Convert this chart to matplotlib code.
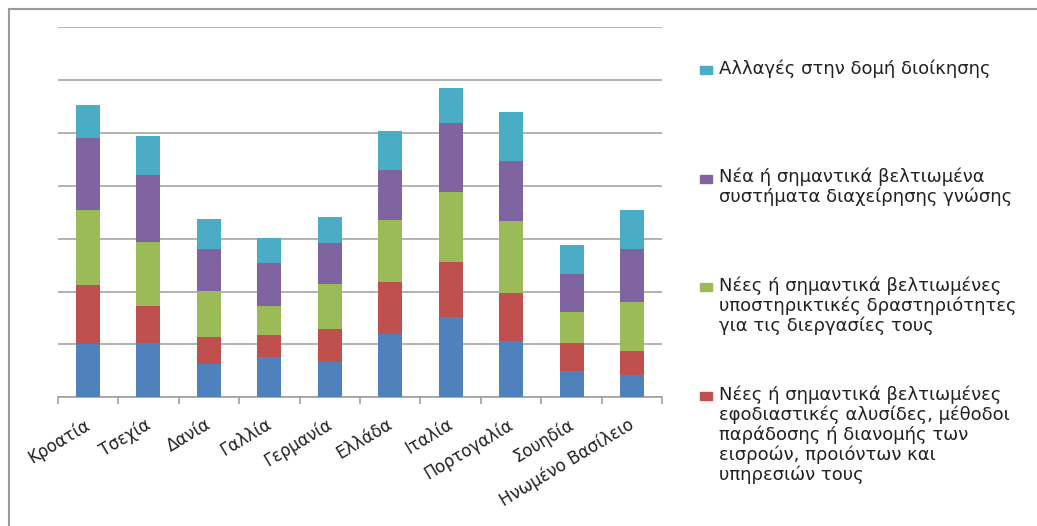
import matplotlib.pyplot as plt
from matplotlib.patches import Rectangle
from matplotlib.lines import Line2D
from matplotlib.transforms import ScaledTranslation

plt.rcParams['font.family'] = ['DejaVu Sans']

countries = ['Κροατία', 'Τσεχία', 'Δανία', 'Γαλλία', 'Γερμανία',
             'Ελλάδα', 'Ιταλία', 'Πορτογαλία', 'Σουηδία', 'Ηνωμένο Βασίλειο']

# stacked from bottom to top
blue_vals = [5.0, 5.1, 3.15, 3.8, 3.3, 6.0, 7.55, 5.3, 2.45, 2.1]
red_vals = [5.6, 3.55, 2.55, 2.1, 3.2, 4.9, 5.25, 4.6, 2.7, 2.3]
green_vals = [7.1, 6.0, 4.35, 2.7, 4.2, 5.9, 6.65, 6.8, 2.9, 4.6]
purple_vals = [6.8, 6.35, 4.0, 4.1, 3.9, 4.7, 6.5, 5.7, 3.6, 5.0]
cyan_vals = [3.15, 3.7, 2.8, 2.4, 2.45, 3.65, 3.3, 4.55, 2.8, 3.7]

series_labels = [
    '',
    'Νέες ή σημαντικά βελτιωμένες\nεφοδιαστικές αλυσίδες, μέθοδοι\n'
    'παράδοσης ή διανομής των\nεισροών, προιόντων και\nυπηρεσιών τους',
    'Νέες ή σημαντικά βελτιωμένες\nυποστηρικτικές δραστηριότητες\n'
    'για τις διεργασίες τους',
    'Νέα ή σημαντικά βελτιωμένα\nσυστήματα διαχείρησης γνώσης',
    'Αλλαγές στην δομή διοίκησης',
]
series = [blue_vals, red_vals, green_vals, purple_vals, cyan_vals]
colors = ['#4F81BD', '#C0504D', '#9BBB59', '#8064A2', '#4BACC6']
text_color = '#222222'

W, H = 1037, 526
fig = plt.figure(figsize=(W / 100, H / 100), dpi=100)
ax = fig.add_axes([57.7 / W, 1 - 397.3 / H, 604.6 / W, 370 / H])

x = list(range(len(countries)))
bottom = [0.0] * len(countries)
for vals, c in zip(series, colors):
    ax.bar(x, vals, width=0.4, bottom=bottom, color=c, zorder=3)
    bottom = [b + v for b, v in zip(bottom, vals)]

ax.set_xlim(-0.5, len(countries) - 0.5)
ax.set_ylim(0, 35)
ax.set_yticks(range(0, 36, 5))
ax.yaxis.grid(True, color='#a6a6a6', linewidth=1.2, zorder=0)
ax.tick_params(axis='y', length=0, labelleft=False)
for s in ['top', 'right', 'left']:
    ax.spines[s].set_visible(False)
ax.spines['bottom'].set_color('#a0a0a0')
ax.spines['bottom'].set_linewidth(1.2)

# category ticks sit on the boundaries between bars
ax.set_xticks([i - 0.5 for i in range(len(countries) + 1)], minor=True)
ax.tick_params(axis='x', which='minor', length=5, color='#a0a0a0', width=1.2)
ax.tick_params(axis='x', which='major', length=0, pad=13)
ax.set_xticks(x)
ax.set_xticklabels(countries, rotation=31, ha='right', va='top',
                   rotation_mode='anchor', fontsize=12, color=text_color)
shift = ScaledTranslation(-4 / 100, 0, fig.dpi_scale_trans)
for lbl in ax.get_xticklabels():
    lbl.set_transform(lbl.get_transform() + shift)

# legend on the right, top entry first, one text line at a time
first_baselines = [74, 182.5, 291, 399.5]
for k, yb in zip([4, 3, 2, 1], first_baselines):
    fig.add_artist(Rectangle((700 / W, 1 - yb / H), 12 / W, 8 / H,
                             transform=fig.transFigure, color=colors[k]))
    for i, line in enumerate(series_labels[k].split('\n')):
        fig.text(719 / W, 1 - (yb + 20 * i) / H, line, fontsize=13,
                 va='baseline', ha='left', color=text_color)

# chart frame
fig.add_artist(Line2D([9 / W, 1], [1 - 9 / H, 1 - 9 / H], color='#9a9a9a', lw=1.5))
fig.add_artist(Line2D([9 / W, 9 / W], [0, 1 - 9 / H], color='#9a9a9a', lw=1.5))

fig.savefig('out.png', dpi=100)
